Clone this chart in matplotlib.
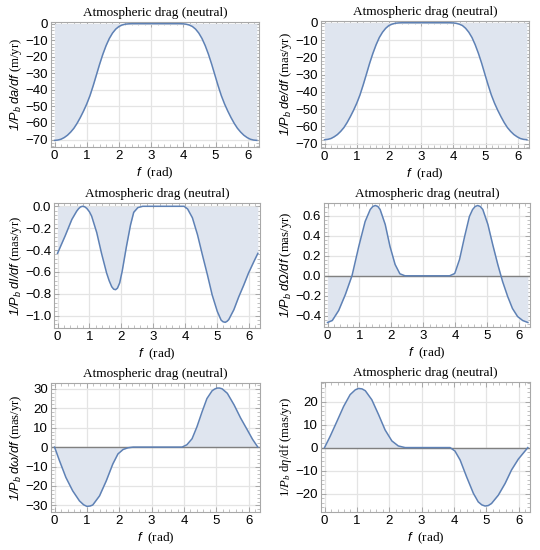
import numpy as np
import matplotlib
matplotlib.use('Agg')
import matplotlib.pyplot as plt
from matplotlib.ticker import AutoMinorLocator

plt.rcParams['font.family'] = ['Liberation Serif', 'DejaVu Serif']
plt.rcParams['mathtext.fontset'] = 'custom'
plt.rcParams['mathtext.sf'] = 'Liberation Sans:italic'
plt.rcParams['mathtext.rm'] = 'Liberation Serif'
plt.rcParams['mathtext.it'] = 'Liberation Serif:italic'

TITLE = 'Atmospheric drag (neutral)'

# ---- data (f in rad) ----
# da/df (m/yr), symmetric about pi
f_a = [0.0, 0.1, 0.2, 0.3, 0.4, 0.5, 0.6, 0.7, 0.8, 0.9, 1.0, 1.1, 1.2, 1.3,
       1.4, 1.5, 1.6, 1.7, 1.8, 1.9, 2.0, 2.1, 2.2, 2.3, 2.4,
       3.88, 3.98, 4.08, 4.18, 4.28, 4.38, 4.48, 4.58, 4.68, 4.78, 4.88, 4.98,
       5.08, 5.18, 5.28, 5.38, 5.48, 5.58, 5.68, 5.78, 5.88, 5.98, 6.08, 6.18,
       6.283]
da = [-70.5, -70.3, -69.8, -68.8, -67.4, -65.5, -63.2, -60.2, -56.7, -52.8,
      -48.5, -43.5, -37.5, -31.0, -24.5, -18.5, -13.3, -9.0, -5.7, -3.3,
      -1.7, -0.8, -0.3, -0.1, 0.0,
      0.0, -0.1, -0.3, -0.8, -1.7, -3.3, -5.7, -9.0, -13.3, -18.5, -24.5,
      -31.0, -37.5, -43.5, -48.5, -52.8, -56.7, -60.2, -63.2, -65.5, -67.4,
      -68.8, -69.8, -70.3, -70.5]

# de/df (mas/yr)
f_e = f_a
de = [-67.7, -67.5, -67.0, -66.0, -64.7, -62.9, -60.7, -57.8, -54.4, -50.7,
      -46.6, -41.8, -36.0, -29.8, -23.5, -17.8, -12.8, -8.6, -5.5, -3.2,
      -1.6, -0.8, -0.3, -0.1, 0.0,
      0.0, -0.1, -0.3, -0.8, -1.6, -3.2, -5.5, -8.6, -12.8, -17.8, -23.5,
      -29.8, -36.0, -41.8, -46.6, -50.7, -54.4, -57.8, -60.7, -62.9, -64.7,
      -66.0, -67.0, -67.5, -67.7]

# dI/df (mas/yr)
f_i = [0.0, 0.24, 0.45, 0.60, 0.66, 0.72, 0.78, 0.85, 0.92, 1.0, 1.07, 1.23,
       1.38, 1.54, 1.62, 1.70, 1.76, 1.82, 1.88, 1.95, 2.03, 2.16, 2.29, 2.39,
       2.52, 2.67, 3.97, 4.08, 4.23, 4.39, 4.54, 4.70, 4.85, 5.01, 5.13, 5.19,
       5.26, 5.32, 5.37, 5.53, 5.68, 5.84, 5.99, 6.15, 6.283]
di = [-0.43, -0.27, -0.12, -0.045, -0.022, -0.006, 0.0, -0.004, -0.02, -0.05,
      -0.09, -0.24, -0.43, -0.61, -0.68, -0.735, -0.757, -0.762, -0.748,
      -0.70, -0.59, -0.37, -0.17, -0.055, -0.012, 0.0, 0.0, -0.025, -0.105,
      -0.26, -0.44, -0.625, -0.81, -0.96, -1.04, -1.055, -1.06, -1.05,
      -1.035, -0.945, -0.83, -0.72, -0.61, -0.51, -0.43]

# dOmega/df (mas/yr)
f_o = [0.0, 0.15, 0.35, 0.56, 0.77, 0.98, 1.18, 1.34, 1.42, 1.50, 1.58, 1.65,
       1.81, 1.96, 2.12, 2.27, 2.43, 3.83, 3.99, 4.14, 4.30, 4.45, 4.55, 4.63,
       4.71, 4.79, 4.87, 5.03, 5.18, 5.34, 5.49, 5.65, 5.80, 5.96, 6.12, 6.283]
do = [-0.47, -0.45, -0.35, -0.19, 0.0, 0.29, 0.54, 0.66, 0.69, 0.70, 0.69,
      0.66, 0.51, 0.29, 0.11, 0.017, -0.003, -0.003, 0.02, 0.16, 0.39, 0.59,
      0.66, 0.69, 0.70, 0.69, 0.66, 0.51, 0.31, 0.11, -0.06, -0.21, -0.33,
      -0.41, -0.45, -0.47]

# domega/df (mas/yr)
f_w = [0.0, 0.15, 0.35, 0.56, 0.77, 0.90, 1.0, 1.10, 1.18, 1.39, 1.6, 1.8,
       1.96, 2.12, 2.27, 2.43, 3.94, 4.09, 4.25, 4.40, 4.56, 4.71, 4.87, 4.95,
       5.03, 5.10, 5.18, 5.34, 5.55, 5.75, 5.96, 6.12, 6.283]
dw = [0.0, -6.9, -15.6, -22.5, -27.7, -29.7, -30.5, -30.3, -29.8, -25.1,
      -17.3, -8.7, -3.5, -1.2, -0.35, 0.0, 0.0, 1.2, 4.3, 10.4, 18.2, 25.0,
      29.0, 29.9, 30.4, 30.4, 30.0, 27.7, 21.7, 15.0, 8.8, 4.0, 0.0]

# deta/df (mas/yr)
f_n = [0.0, 0.17, 0.38, 0.59, 0.79, 0.95, 1.05, 1.16, 1.26, 1.46, 1.67, 1.87,
       2.08, 2.28, 2.49, 3.88, 4.03, 4.19, 4.39, 4.60, 4.75, 4.86, 4.96, 5.06,
       5.16, 5.37, 5.58, 5.78, 5.99, 6.283]
dn = [0.0, 4.8, 11.3, 17.9, 23.0, 25.1, 25.7, 25.5, 24.7, 20.8, 14.3, 7.7,
      2.9, 0.7, 0.0, 0.0, -1.5, -5.4, -12.7, -19.9, -23.6, -24.9, -25.4,
      -25.2, -24.3, -20.7, -15.6, -9.7, -5.0, 0.0]

ylabels = [r'$\mathsf{1/P_b\ da/df}$ (m/yr)',
           r'$\mathsf{1/P_b\ de/df}$ (mas/yr)',
           r'$\mathsf{1/P_b\ dI/df}$ (mas/yr)',
           r'$\mathsf{1/P_b\ d\Omega/df}$ (mas/yr)',
           r'$\mathsf{1/P_b\ d\omega/df}$ (mas/yr)',
           r'$\mathrm{1/}P_b\ \mathrm{d}\eta\mathrm{/df}$ (mas/yr)']

yticks = [np.arange(-70, 1, 10), np.arange(-70, 1, 10),
          np.arange(-1.0, 0.01, 0.2), np.arange(-0.4, 0.61, 0.2),
          np.arange(-30, 31, 10), np.arange(-20, 21, 10)]
ylims = [(-74.5, 1.0), (-72.5, 1.0), (-1.112, 0.03), (-0.515, 0.725),
         (-33.4, 33.0), (-28.0, 28.5)]
zero_axis = [False, False, False, True, True, True]

# axes boxes in pixels: left, right, top, bottom
boxes = [(51, 259, 22, 147), (321, 529, 21, 148),
         (54, 260, 203, 328), (324, 530, 203, 327),
         (51, 260, 383, 512), (321, 530, 382, 512)]

series = [(f_a, da), (f_e, de), (f_i, di), (f_o, do), (f_w, dw), (f_n, dn)]

W, H = 540, 550
fig = plt.figure(figsize=(W / 100, H / 100), dpi=100)

line_col = '#5e81b5'
fill_col = '#dfe5ef'
frame_col = '#a8a8a8'
grid_col = '#e4e4e4'

for k, (x, y) in enumerate(series):
    l, r, t, b = boxes[k]
    ax = fig.add_axes([l / W, 1 - b / H, (r - l) / W, (b - t) / H])
    ax.fill_between(x, y, 0, color=fill_col, lw=0, zorder=1)
    if zero_axis[k]:
        ax.axhline(0, color='#808080', lw=1.0, zorder=2)
    ax.plot(x, y, color=line_col, lw=1.1, zorder=3)
    ax.set_xlim(-0.11, 6.35)
    ax.set_ylim(*ylims[k])
    ax.set_xticks(range(7))
    ax.set_yticks(yticks[k])
    if k in (2, 3):
        ax.set_yticklabels([('%.1f' % (0.0 if abs(v) < 1e-9 else v))
                            .replace('-', '\u2212') for v in yticks[k]])
    ax.xaxis.set_minor_locator(AutoMinorLocator(5))
    ax.yaxis.set_minor_locator(AutoMinorLocator(5))
    ax.grid(True, which='major', color=grid_col, lw=0.9, zorder=0)
    ax.set_axisbelow(True)
    for s in ax.spines.values():
        s.set_color(frame_col)
        s.set_linewidth(0.8)
    ax.tick_params(which='both', direction='in', color=frame_col,
                   top=True, right=True, labelsize=9.5, pad=2)
    ax.tick_params(which='major', length=3.5, width=0.7)
    ax.tick_params(which='minor', length=2, width=0.5)
    for lab in ax.get_xticklabels() + ax.get_yticklabels():
        lab.set_fontfamily('Liberation Sans')
    ax.set_title(TITLE, fontsize=9.5, pad=4.5)
    ax.set_xlabel(r'$\mathsf{f}$  (rad)', fontsize=9.5, labelpad=2.5)
    ax.set_ylabel(ylabels[k], fontsize=9.2, labelpad=1)

fig.savefig('out.png', dpi=100)
